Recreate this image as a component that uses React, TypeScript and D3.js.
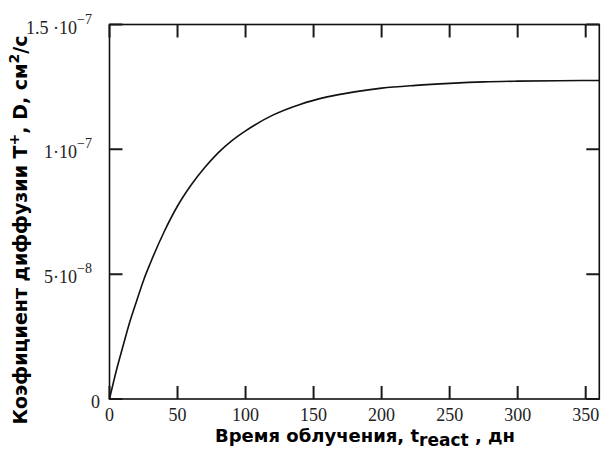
import React from "react";
import * as d3 from "d3";

const tDays = [0, 5, 10, 15, 20, 25, 30, 40, 50, 60, 70, 80, 90, 100, 120, 140, 160, 180, 200, 225, 250, 275, 300, 330, 360];
const dValues = [0, 0.113e-7, 0.213e-7, 0.31e-7, 0.394e-7, 0.475e-7, 0.544e-7, 0.668e-7, 0.773e-7, 0.857e-7, 0.927e-7, 0.987e-7, 1.035e-7, 1.074e-7, 1.137e-7, 1.18e-7, 1.21e-7, 1.23e-7, 1.245e-7, 1.256e-7, 1.264e-7, 1.27e-7, 1.273e-7, 1.275e-7, 1.276e-7];
const xTicks = [0, 50, 100, 150, 200, 250, 300, 350];
const yTicks = [0, 5e-8, 1e-7, 1.5e-7];
const yTickMain = ["0", "5·10", "1·10", "1.5 ·10"];
const yTickExp = ["", "−8", "−7", "−7"];

export default function App() {
  const W = 603, H = 449;
  const L = 109.5, R = 599.3, T = 24.5, B = 399;
  const x = d3.scaleLinear().domain([0, 360]).range([L, R]);
  const y = d3.scaleLinear().domain([0, 1.5e-7]).range([B, T]);
  const pts = tDays.map((t, i) => [t, dValues[i]] as [number, number]);
  const line = d3.line<[number, number]>().x(d => x(d[0])).y(d => y(d[1])).curve(d3.curveMonotoneX);
  const serif = "'Liberation Serif', 'Times New Roman', serif";
  const sans = "'DejaVu Sans', Verdana, sans-serif";
  const tk = 13;
  let tickPath = "";
  xTicks.forEach(v => { tickPath += `M${x(v)},${B}V${B - tk}M${x(v)},${T}V${T + tk}`; });
  yTicks.forEach(v => { tickPath += `M${L},${y(v)}H${L + tk}M${R},${y(v)}H${R - tk}`; });
  return (
    <svg width={W} height={H} style={{ position: "absolute", left: 0, top: 0, background: "#fff" }}>
      <rect x={L} y={T} width={R - L} height={B - T} fill="none" stroke="#111" strokeWidth={1.6} />
      <path d={tickPath} fill="none" stroke="#1a1a1a" strokeWidth={2} />
      {xTicks.map(v => (
        <text key={"xl" + v} x={x(v)} y={421} textAnchor="middle" fontFamily={serif} fontSize={18} fill="#222">{v}</text>
      ))}
      {yTicks.map((v, i) => (
        <text key={"ylab" + v} x={i === 0 ? 100 : 92} y={y(v) + 9} textAnchor="end" fontFamily={serif} fontSize={18} fill="#222">
          {yTickMain[i]}
          {yTickExp[i] && <tspan fontSize={14} dy={-10}>{yTickExp[i]}</tspan>}
        </text>
      ))}
      <path d={line(pts) || ""} fill="none" stroke="#111" strokeWidth={1.6} />
      <text x={215} y={442} textAnchor="start" fontFamily={sans} fontWeight="bold" fontSize={18} fill="#000">
        Время облучения, t<tspan dy={4} fontSize={17}>react</tspan><tspan dy={-4}> , дн</tspan>
      </text>
      <text transform="translate(27,230) rotate(-90)" textAnchor="middle" fontFamily={sans} fontWeight="bold" fontSize={19} fill="#000">
        Коэфициент диффузии Т<tspan dy={-8} fontSize={14}>+</tspan><tspan dy={8}>, D, см</tspan><tspan dy={-8} fontSize={14}>2</tspan><tspan dy={8}>/с</tspan>
      </text>
    </svg>
  );
}
